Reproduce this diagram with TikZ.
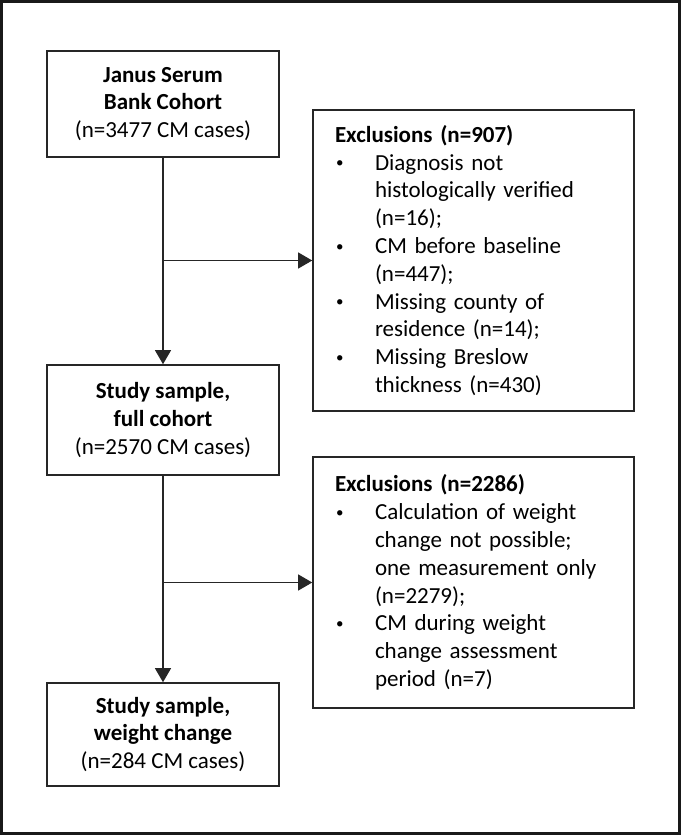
\documentclass[tikz,border=0pt]{standalone}
\usepackage{fontspec}
\setmainfont{Carlito}
\usetikzlibrary{arrows.meta}
\newcommand\bitem[1]{\makebox[40pt][l]{\hspace*{1pt}\raisebox{2.5pt}{\fontsize{15}{15}\selectfont\textbullet}}#1}
\newcommand\bcont{\hspace*{40pt}}
\begin{document}
\begin{tikzpicture}[x=1pt,y=-1pt,
  box/.style={draw=black!85, line width=1.6pt, align=center, minimum width=232pt,
    inner sep=0pt, font=\fontsize{23}{27.8}\selectfont},
  excl/.style={draw=black!85, line width=1.6pt, align=left, text width=277pt,
    inner xsep=22pt, inner ysep=0pt, font=\fontsize{23}{27.8}\selectfont},
  conn/.style={line width=1.1pt, draw=black!85, -{Triangle[width=16pt,length=14pt]}}]
\useasboundingbox (0,0) rectangle (681,835);
\draw[line width=3pt, draw=black!90] (1.5,1.5) rectangle (679.5,833.5);

\node[box, minimum height=106pt] (A) at (163,104)
  {\textbf{Janus Serum}\\\textbf{Bank Cohort}\\(n=3477 CM cases)};
\node[box, minimum height=110pt] (B) at (163,420)
  {\textbf{Study sample,}\\\textbf{full cohort}\\(n=2570 CM cases)};
\node[box, minimum height=103pt] (C) at (163,734.5)
  {\textbf{Study sample,}\\\textbf{weight change}\\(n=284 CM cases)};

\node[excl, minimum height=301pt] (E1) at (473.5,260.5)
  {\textbf{Exclusions (n=907)}\\
   \bitem{Diagnosis not}\\
   \bcont histologically verified\\
   \bcont (n=16);\\
   \bitem{CM before baseline}\\
   \bcont (n=447);\\
   \bitem{Missing county of}\\
   \bcont residence (n=14);\\
   \bitem{Missing Breslow}\\
   \bcont thickness (n=430)};
\node[excl, minimum height=251pt] (E2) at (473.5,582.5)
  {\textbf{Exclusions (n=2286)}\\
   \bitem{Calculation of weight}\\
   \bcont change not possible;\\
   \bcont one measurement only\\
   \bcont (n=2279);\\
   \bitem{CM during weight}\\
   \bcont change assessment\\
   \bcont period (n=7)};

\draw[conn] (A.south) -- (B.north);
\coordinate (j1) at (A.south |- E1.west);
\draw[conn] (j1) -- (E1.west);
\draw[conn] (B.south) -- (C.north);
\coordinate (j2) at (B.south |- E2.west);
\draw[conn] (j2) -- (E2.west);
\end{tikzpicture}
\end{document}
